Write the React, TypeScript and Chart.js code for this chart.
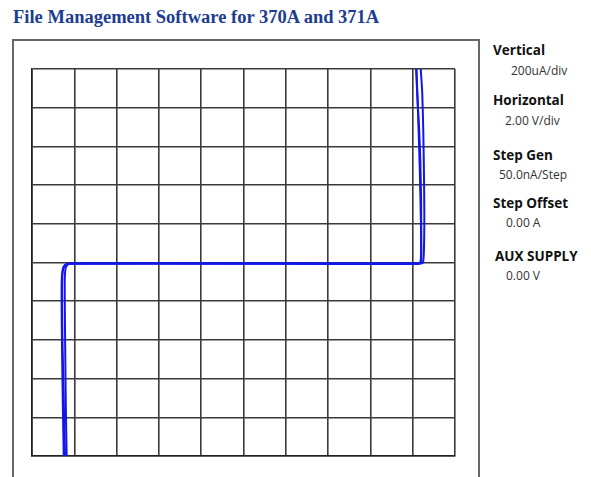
import React, { useEffect, useRef } from "react";
import { Chart, registerables } from "chart.js";

Chart.register(...registerables);

// Axis ranges (Horizontal: 2.00 V/div, Vertical: 200 uA/div, 10 x 10 divisions)
const xMin = -10;
const xMax = 10;
const xStep = 2;
const yMin = -1000;
const yMax = 1000;
const yStep = 200;

// Swept I-V traces (volts, microamps)
const traceAV = [-8.5, -8.54, -8.58, -8.6, -8.59, -8.52, -8.38, -8.2, 0, 8.25, 8.36, 8.4, 8.4, 8.36, 8.3, 8.22, 8.16];
const traceAI = [-1000, -750, -450, -200, -80, -25, -8, -5, -5, -5, -3, 60, 300, 530, 700, 860, 1000];

const traceBV = [-8.36, -8.4, -8.43, -8.45, -8.45, -8.4, -8.28, -8.1, 0, 8.35, 8.48, 8.53, 8.55, 8.53, 8.5, 8.45, 8.38];
const traceBI = [-1000, -750, -450, -200, -80, -25, -8, -5, -5, -5, -2, 60, 250, 480, 680, 880, 1000];

const traceCV = [-8.44, -8.5, -8.56, -8.58, -8.55, -8.45, -8.28, 0, 8.32, 8.4, 8.39, 8.33, 8.25, 8.18];
const traceCI = [-1000, -700, -400, -150, -50, -15, -6, -6, -6, 20, 200, 500, 780, 1000];

const title = "File Management Software for 370A and 371A";
const panelLabels = ["Vertical", "Horizontal", "Step Gen", "Step Offset", "AUX SUPPLY"];
const panelValues = ["200uA/div", "2.00 V/div", "50.0nA/Step", "0.00 A", "0.00 V"];

// layout (kept separate from data)
const labelCenters = [50, 100, 155, 203, 256.5];
const labelLefts = [493, 493, 493, 493, 495];
const valueCenters = [71.7, 121.7, 175.5, 223, 276.5];
const valueLefts = [511, 505, 499, 506, 506];

const toPoints = (xs: number[], ys: number[]) => xs.map((x, i) => ({ x, y: ys[i] }));

export default function App() {
  const canvasRef = useRef<HTMLCanvasElement | null>(null);

  useEffect(() => {
    if (!canvasRef.current) return;
    const traceColor = "rgb(18, 22, 235)";
    const mk = (xs: number[], ys: number[]) => ({
      data: toPoints(xs, ys),
      showLine: true,
      borderColor: traceColor,
      borderWidth: 2,
      pointRadius: 0,
      tension: 0.2,
      fill: false,
    });
    const chart = new Chart(canvasRef.current, {
      type: "scatter",
      data: {
        datasets: [mk(traceAV, traceAI), mk(traceBV, traceBI), mk(traceCV, traceCI)],
      },
      options: {
        animation: false,
        responsive: false,
        maintainAspectRatio: false,
        layout: { padding: { left: 10, right: 11, top: 10, bottom: 10 } },
        plugins: { legend: { display: false }, tooltip: { enabled: false } },
        scales: {
          x: {
            type: "linear",
            min: xMin,
            max: xMax,
            ticks: { display: false, stepSize: xStep },
            grid: { color: "#3a3a3a", lineWidth: 1.6, drawTicks: false },
            border: { display: true, color: "#222", width: 1.6 },
          },
          y: {
            type: "linear",
            min: yMin,
            max: yMax,
            ticks: { display: false, stepSize: yStep },
            grid: { color: "#3a3a3a", lineWidth: 1.6, drawTicks: false },
            border: { display: true, color: "#222", width: 1.6 },
          },
        },
      },
    });
    return () => chart.destroy();
  }, []);

  const labelStyle = (i: number): React.CSSProperties => ({
    position: "absolute",
    left: labelLefts[i],
    top: labelCenters[i] - 8.4,
    lineHeight: "16px",
    fontFamily: "'Open Sans', sans-serif",
    fontWeight: 700,
    fontSize: 13.5,
    color: "#111",
    whiteSpace: "nowrap",
  });
  const valueStyle = (i: number): React.CSSProperties => ({
    position: "absolute",
    left: valueLefts[i],
    top: valueCenters[i] - 8.4,
    lineHeight: "16px",
    fontFamily: "'Open Sans', sans-serif",
    fontWeight: 400,
    fontSize: 12,
    color: "#333",
    whiteSpace: "nowrap",
  });

  return (
    <div style={{ position: "fixed", left: 0, top: 0, width: 591, height: 477, overflow: "hidden", background: "#fff" }}>
      <div
        style={{
          position: "absolute",
          left: 13,
          top: 6.5,
          lineHeight: "20px",
          fontFamily: "'Liberation Serif', serif",
          fontWeight: 700,
          fontSize: 18.5,
          color: "#1d3d90",
          whiteSpace: "nowrap",
        }}
      >
        {title}
      </div>
      <div
        style={{
          position: "absolute",
          left: 12,
          top: 39,
          width: 464,
          height: 460,
          border: "2px solid #666",
          boxSizing: "content-box",
        }}
      />
      <canvas
        ref={canvasRef}
        width={444}
        height={407}
        style={{ position: "absolute", left: 22, top: 59, width: 444, height: 407 }}
      />
      {panelLabels.map((t, i) => (
        <div key={"l" + i} style={labelStyle(i)}>
          {t}
        </div>
      ))}
      {panelValues.map((t, i) => (
        <div key={"v" + i} style={valueStyle(i)}>
          {t}
        </div>
      ))}
    </div>
  );
}
